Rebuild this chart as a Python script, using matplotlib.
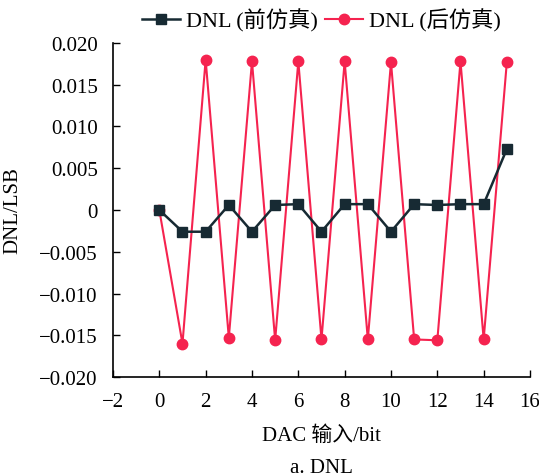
import matplotlib
matplotlib.use("Agg")
import matplotlib.pyplot as plt

plt.rcParams['font.family'] = ['Liberation Serif', 'Noto Sans CJK SC']
plt.rcParams['axes.unicode_minus'] = True

x = list(range(16))
dnl_pre = [0, -0.0026, -0.0026, 0.0006, -0.0026, 0.0006, 0.0007, -0.0026,
           0.0007, 0.0007, -0.0026, 0.0007, 0.0006, 0.0007, 0.0007, 0.0073]
dnl_post = [0, -0.0160, 0.0180, -0.0153, 0.0178, -0.0156, 0.0178, -0.0155,
            0.0178, -0.0155, 0.0177, -0.0155, -0.0156, 0.0178, -0.0155, 0.0177]
xticks = list(range(-2, 17, 2))
yticks = [-0.020, -0.015, -0.010, -0.005, 0, 0.005, 0.010, 0.015, 0.020]
ytick_labels = ['\u22120.020', '\u22120.015', '\u22120.010', '\u22120.005', '0',
                '0.005', '0.010', '0.015', '0.020']
xtick_labels = ['\u22122', '0', '2', '4', '6', '8', '10', '12', '14', '16']

fig = plt.figure(figsize=(5.39, 4.77), dpi=100)
ax = fig.add_axes([0.2096, 0.2075, 0.7737, 0.7003])

dark = '#172a33'
red = '#f5234f'
ax.plot(x, dnl_pre, color=dark, marker='s', markersize=7, linewidth=1.8,
        label='DNL (前仿真)', zorder=3)
ax.plot(x, dnl_post, color=red, marker='o', markersize=7.5, linewidth=1.5,
        label='DNL (后仿真)', zorder=2)

ax.set_xlim(-2, 16)
ax.set_ylim(-0.020, 0.020)
ax.set_xticks(xticks)
ax.set_xticklabels(xtick_labels)
ax.set_yticks(yticks)
ax.set_yticklabels(ytick_labels)
ax.tick_params(direction='in', labelsize=15, length=5, width=1, pad=11)
for s in ['top', 'right']:
    ax.spines[s].set_visible(False)
for s in ['left', 'bottom']:
    ax.spines[s].set_linewidth(1.2)

ax.set_xlabel('DAC 输入/bit', fontsize=15, labelpad=10)
ax.set_ylabel('DNL/LSB', fontsize=15, labelpad=12)

ax.legend(loc='lower center', bbox_to_anchor=(0.5, 1.0), ncol=2, frameon=False,
          fontsize=16, handlelength=1.7, columnspacing=0.3, handletextpad=0.3,
          borderaxespad=0.1)

fig.text(0.5 * (0.2096 + 0.9833), 1 - 469 / 477, 'a. DNL', ha='center', va='center', fontsize=15)

fig.savefig('out.png', dpi=100)
